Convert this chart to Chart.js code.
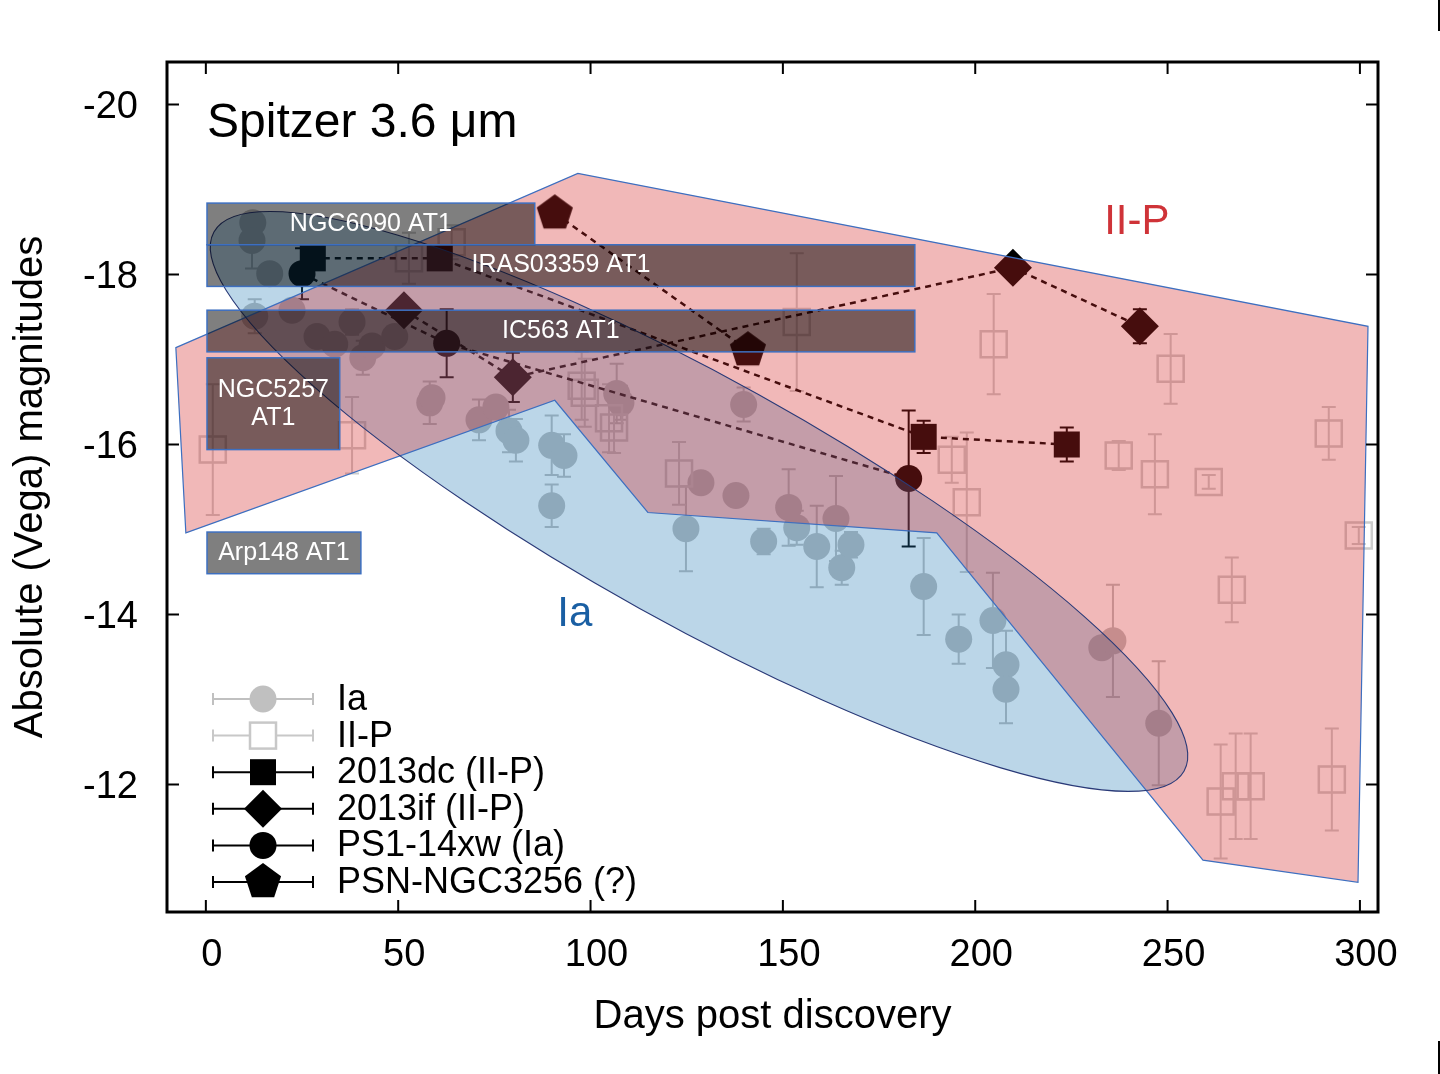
<!DOCTYPE html>
<html>
<head>
<meta charset="utf-8">
<script src="https://cdn.jsdelivr.net/npm/chart.js@4.4.1/dist/chart.umd.min.js"></script>
<style>
  html, body { margin: 0; padding: 0; background: #fff; }
  #wrap { width: 1440px; height: 1074px; }
</style>
</head>
<body>
<div id="wrap"><canvas id="lc" width="1440" height="1074"></canvas></div>
<script>
const FONT = "'Liberation Sans', Arial, Helvetica, sans-serif";

// tick labels
const xTickValues = [0, 50, 100, 150, 200, 250, 300];
const yTickValues = [-20, -18, -16, -14, -12];

// Ia comparison sample (grey circles)
const iaDays = [12.2, 12.0, 16.6, 12.7, 22.4, 28.9, 33.5, 38.0, 40.8, 43.2,
  49.1, 58.2, 58.8, 71.0, 75.4, 78.8, 80.6, 89.9, 93.1, 89.9,
  106.8, 107.9, 124.8, 128.7, 137.8, 139.8, 145.0, 151.5, 153.6, 158.8,
  163.8, 165.3, 167.7, 186.6, 195.7, 204.6, 208.0, 208.0, 232.9, 235.8, 247.7];
const iaMags = [-18.61, -18.40, -18.01, -17.51, -17.58, -17.27, -17.18, -17.44, -17.02, -17.16,
  -17.27, -16.49, -16.55, -16.29, -16.44, -16.16, -16.05, -15.99, -15.87, -15.28,
  -16.60, -16.49, -15.01, -15.55, -15.40, -16.47, -14.86, -15.26, -15.02, -14.80,
  -15.13, -14.55, -14.82, -14.33, -13.71, -13.93, -13.41, -13.12, -13.61, -13.69, -12.72];
const iaErr = [0.10, 0.33, 0.10, 0.20, 0.10, 0.10, 0.10, 0.15, 0.20, 0.10,
  0.10, 0.25, 0.10, 0.24, 0.10, 0.25, 0.25, 0.35, 0.25, 0.25,
  0.35, 0.20, 0.50, 0.10, 0.10, 0.20, 0.15, 0.45, 0.20, 0.48,
  0.50, 0.20, 0.15, 0.57, 0.29, 0.56, 0.40, 0.40, 0.10, 0.66, 0.73];

// II-P comparison sample (open squares)
const iipDays = [1.8, 38.0, 52.8, 63.9, 97.7, 98.5, 104.8, 106.1, 123.0, 153.6,
  193.9, 197.8, 204.8, 237.3, 246.7, 250.8, 260.7, 266.7, 263.8, 267.7,
  271.6, 291.9, 292.7, 299.7];
const iipMags = [-15.94, -16.11, -18.19, -18.38, -16.69, -16.61, -16.31, -16.20, -15.66, -17.44,
  -15.82, -15.32, -17.18, -15.87, -15.65, -16.89, -15.56, -14.29, -11.80, -11.98,
  -11.98, -16.13, -12.06, -14.93];
const iipErr = [0.77, 0.45, 0.30, 0.20, 0.40, 0.40, 0.40, 0.30, 0.37, 0.81,
  0.27, 0.82, 0.59, 0.17, 0.47, 0.41, 0.08, 0.38, 0.67, 0.62,
  0.62, 0.31, 0.60, 0.10];

// SPIRITS transients
const dcDays = [27.8, 60.8, 186.6, 223.8];
const dcMags = [-18.19, -18.19, -16.09, -16.00];
const dcErr = [0.10, 0, 0.19, 0.20];

const ifDays = [51.5, 79.8, 209.8, 242.8];
const ifMags = [-17.58, -16.79, -18.08, -17.39];
const ifErr = [0, 0.29, 0, 0.20];

const xwDays = [25.0, 62.6, 182.7];
const xwMags = [-18.01, -17.19, -15.60];
const xwErr = [0.30, 0.40, 0.80];

const psnDays = [90.7, 140.9];
const psnMags = [-18.72, -17.11];
const psnErr = [0, 0];

// II-P shaded region (days, mag)
const iipRegionDays = [-7.8, 96.7, 302.1, 299.5, 259.2, 190.0, 114.9, 90.7, -5.2];
const iipRegionMags = [-17.14, -19.19, -17.39, -10.85, -11.11, -14.96, -15.20, -16.52, -14.96];

// Ia ellipse: centre, end of long axis, end of short axis (days, mag)
const ellipseCenter = [128.2, -15.33];
const ellipseTip = [254.3, -12.16];
const ellipseSide = [112.8, -14.07];

// host galaxy boxes
const boxNames = [['NGC6090 AT1'], ['IRAS03359 AT1'], ['IC563 AT1'], ['NGC5257', 'AT1'], ['Arp148 AT1']];
const boxDayFrom = [0.3, 0.3, 0.3, 0.3, 0.3];
const boxDayTo = [85.5, 184.3, 184.3, 34.8, 40.3];
const boxMagTop = [-18.84, -18.35, -17.58, -17.02, -14.97];
const boxMagBottom = [-18.35, -17.86, -17.09, -15.94, -14.48];

const zip = (xs, ys) => xs.map((x, i) => ({ x: x, y: ys[i] }));

function makePentagon(r, color) {
  const s = Math.ceil(2 * r + 4);
  const c = document.createElement('canvas');
  c.width = s; c.height = s;
  const g = c.getContext('2d');
  g.fillStyle = color;
  g.beginPath();
  for (let i = 0; i < 5; i++) {
    const a = -Math.PI / 2 + i * 2 * Math.PI / 5;
    g.lineTo(s / 2 + r * Math.cos(a), s / 2 + r * Math.sin(a));
  }
  g.closePath();
  g.fill();
  return c;
}
const pentagonImg = makePentagon(19, '#000');

function errorBars(ctx, chart, days, mags, errs, color) {
  const xs = chart.scales.x, ys = chart.scales.y;
  ctx.save();
  ctx.strokeStyle = color;
  ctx.lineWidth = 2;
  days.forEach((d, i) => {
    const e = errs[i];
    if (!e) return;
    const x = xs.getPixelForValue(d);
    const y0 = ys.getPixelForValue(mags[i] - e);
    const y1 = ys.getPixelForValue(mags[i] + e);
    ctx.beginPath();
    ctx.moveTo(x, y0); ctx.lineTo(x, y1);
    ctx.moveTo(x - 7, y0); ctx.lineTo(x + 7, y0);
    ctx.moveTo(x - 7, y1); ctx.lineTo(x + 7, y1);
    ctx.stroke();
  });
  ctx.restore();
}

function legendSymbol(ctx, style, x, y, color) {
  ctx.fillStyle = color;
  ctx.strokeStyle = color;
  ctx.beginPath();
  if (style === 'circle') {
    ctx.arc(x, y, 13.5, 0, Math.PI * 2);
    ctx.fill();
  } else if (style === 'open') {
    ctx.fillStyle = '#fff';
    ctx.fillRect(x - 13, y - 13, 26, 26);
    ctx.lineWidth = 2.5;
    ctx.strokeRect(x - 13, y - 13, 26, 26);
  } else if (style === 'rect') {
    ctx.fillRect(x - 13, y - 13, 26, 26);
  } else if (style === 'diamond') {
    ctx.moveTo(x - 19, y); ctx.lineTo(x, y - 19); ctx.lineTo(x + 19, y); ctx.lineTo(x, y + 19);
    ctx.closePath();
    ctx.fill();
  } else {
    ctx.drawImage(pentagonImg, x - pentagonImg.width / 2, y - pentagonImg.height / 2);
  }
}

const overlay = {
  id: 'overlay',
  beforeDatasetsDraw(chart) {
    const ctx = chart.ctx;
    errorBars(ctx, chart, iaDays, iaMags, iaErr, '#c0c0c0');
    errorBars(ctx, chart, iipDays, iipMags, iipErr, '#cccccc');
    errorBars(ctx, chart, dcDays, dcMags, dcErr, '#000');
    errorBars(ctx, chart, ifDays, ifMags, ifErr, '#000');
    errorBars(ctx, chart, xwDays, xwMags, xwErr, '#000');
    errorBars(ctx, chart, psnDays, psnMags, psnErr, '#000');
  },
  afterDatasetsDraw(chart) {
    const ctx = chart.ctx, xs = chart.scales.x, ys = chart.scales.y, area = chart.chartArea;
    const P = (d, m) => [xs.getPixelForValue(d), ys.getPixelForValue(m)];
    ctx.save();
    ctx.beginPath();
    ctx.rect(area.left, area.top, area.right - area.left, area.bottom - area.top);
    ctx.clip();

    // Ia ellipse
    const [cx, cy] = P(ellipseCenter[0], ellipseCenter[1]);
    const [tx, ty] = P(ellipseTip[0], ellipseTip[1]);
    const [sx, sy] = P(ellipseSide[0], ellipseSide[1]);
    const ea = Math.hypot(tx - cx, ty - cy), eb = Math.hypot(sx - cx, sy - cy);
    const rot = Math.atan2(ty - cy, tx - cx);
    ctx.beginPath();
    ctx.ellipse(cx, cy, ea, eb, rot, 0, Math.PI * 2);
    ctx.fillStyle = 'rgba(31,119,180,0.30)';
    ctx.fill();

    // II-P polygon
    ctx.beginPath();
    iipRegionDays.forEach((d, i) => {
      const [x, y] = P(d, iipRegionMags[i]);
      if (i === 0) ctx.moveTo(x, y); else ctx.lineTo(x, y);
    });
    ctx.closePath();
    ctx.fillStyle = 'rgba(214,39,40,0.33)';
    ctx.fill();
    ctx.strokeStyle = '#3d6fc0';
    ctx.lineWidth = 1.2;
    ctx.stroke();

    ctx.beginPath();
    ctx.ellipse(cx, cy, ea, eb, rot, 0, Math.PI * 2);
    ctx.strokeStyle = '#2a3a78';
    ctx.lineWidth = 1.1;
    ctx.stroke();

    // host boxes
    boxNames.forEach((lines, i) => {
      const [x0, y0] = P(boxDayFrom[i], boxMagTop[i]);
      const [x1, y1] = P(boxDayTo[i], boxMagBottom[i]);
      ctx.fillStyle = 'rgba(0,0,0,0.5)';
      ctx.fillRect(x0, y0, x1 - x0, y1 - y0);
      ctx.strokeStyle = '#3d6fc0';
      ctx.lineWidth = 1.5;
      ctx.strokeRect(x0, y0, x1 - x0, y1 - y0);
      ctx.fillStyle = '#fff';
      ctx.font = '25px ' + FONT;
      ctx.textAlign = 'center';
      ctx.textBaseline = 'middle';
      const mid = (y0 + y1) / 2, lh = 28;
      lines.forEach((t, k) => {
        ctx.fillText(t, (x0 + x1) / 2, mid + (k - (lines.length - 1) / 2) * lh);
      });
    });
    ctx.restore();
  },
  afterDraw(chart) {
    const ctx = chart.ctx, xs = chart.scales.x, ys = chart.scales.y, area = chart.chartArea;
    ctx.save();

    // texts
    ctx.textBaseline = 'middle';
    ctx.textAlign = 'left';
    ctx.fillStyle = '#000';
    ctx.font = '48px ' + FONT;
    ctx.fillText('Spitzer 3.6 \u03bcm', xs.getPixelForValue(0.3), ys.getPixelForValue(-19.77));
    ctx.textAlign = 'center';
    ctx.font = '42px ' + FONT;
    ctx.fillStyle = '#cf3338';
    ctx.fillText('II-P', xs.getPixelForValue(242.0), ys.getPixelForValue(-18.61));
    ctx.fillStyle = '#1a5fa3';
    ctx.fillText('Ia', xs.getPixelForValue(95.9), ys.getPixelForValue(-14.0));

    // legend
    const items = [
      ['Ia', 'circle', '#c0c0c0'],
      ['II-P', 'open', '#c8c8c8'],
      ['2013dc (II-P)', 'rect', '#000'],
      ['2013if (II-P)', 'diamond', '#000'],
      ['PS1-14xw (Ia)', 'circle', '#000'],
      ['PSN-NGC3256 (?)', 'pentagon', '#000']
    ];
    items.forEach((it, i) => {
      const y = 699 + i * 36.6;
      const x0 = area.left + 46, x1 = area.left + 146, xc = area.left + 96;
      ctx.strokeStyle = it[2];
      ctx.lineWidth = 2;
      ctx.beginPath();
      ctx.moveTo(x0, y); ctx.lineTo(x1, y);
      ctx.moveTo(x0, y - 6); ctx.lineTo(x0, y + 6);
      ctx.moveTo(x1, y - 6); ctx.lineTo(x1, y + 6);
      ctx.stroke();
      legendSymbol(ctx, it[1], xc, y, it[2]);
      ctx.fillStyle = '#000';
      ctx.font = '36px ' + FONT;
      ctx.textAlign = 'left';
      ctx.textBaseline = 'middle';
      ctx.fillText(it[0], area.left + 170, y + 1);
    });

    // frame and inward ticks
    ctx.strokeStyle = '#000';
    ctx.lineWidth = 2;
    ctx.beginPath();
    xTickValues.forEach(v => {
      const x = xs.getPixelForValue(v);
      ctx.moveTo(x, area.bottom); ctx.lineTo(x, area.bottom - 12);
      ctx.moveTo(x, area.top); ctx.lineTo(x, area.top + 12);
    });
    yTickValues.forEach(v => {
      const y = ys.getPixelForValue(v);
      ctx.moveTo(area.left, y); ctx.lineTo(area.left + 12, y);
      ctx.moveTo(area.right, y); ctx.lineTo(area.right - 12, y);
    });
    ctx.stroke();
    ctx.lineWidth = 3;
    ctx.strokeRect(area.left, area.top, area.right - area.left, area.bottom - area.top);

    // page edge marks
    ctx.fillStyle = '#000';
    ctx.fillRect(1438, 0, 2, 31);
    ctx.fillRect(1438, 1041, 2, 33);
    ctx.restore();
  }
};

new Chart(document.getElementById('lc'), {
  type: 'scatter',
  data: {
    datasets: [
      { label: '2013dc (II-P)', data: zip(dcDays, dcMags), order: 1, showLine: true,
        borderColor: '#000', borderWidth: 2.5, borderDash: [6, 5],
        pointStyle: 'rect', pointRadius: 18.4, pointBackgroundColor: '#000', pointBorderWidth: 0 },
      { label: '2013if (II-P)', data: zip(ifDays, ifMags), order: 1, showLine: true,
        borderColor: '#000', borderWidth: 2.5, borderDash: [6, 5],
        pointStyle: 'rectRot', pointRadius: 19, pointBackgroundColor: '#000', pointBorderWidth: 0 },
      { label: 'PS1-14xw (Ia)', data: zip(xwDays, xwMags), order: 1, showLine: true,
        borderColor: '#000', borderWidth: 2.5, borderDash: [6, 5],
        pointStyle: 'circle', pointRadius: 13.5, pointBackgroundColor: '#000', pointBorderWidth: 0 },
      { label: 'PSN-NGC3256 (?)', data: zip(psnDays, psnMags), order: 1, showLine: true,
        borderColor: '#000', borderWidth: 2.5, borderDash: [6, 5],
        pointStyle: pentagonImg, pointRadius: 19 },
      { label: 'II-P', data: zip(iipDays, iipMags), order: 5,
        pointStyle: 'rect', pointRadius: 18.4, pointBackgroundColor: 'rgba(0,0,0,0)',
        pointBorderColor: '#cccccc', pointBorderWidth: 2.5 },
      { label: 'Ia', data: zip(iaDays, iaMags), order: 6,
        pointStyle: 'circle', pointRadius: 13.5, pointBackgroundColor: '#bfbfbf', pointBorderWidth: 0 }
    ]
  },
  options: {
    responsive: false,
    devicePixelRatio: 1,
    animation: false,
    events: [],
    layout: { padding: { top: 62, right: 62, left: 0, bottom: 0 } },
    plugins: { legend: { display: false }, tooltip: { enabled: false } },
    scales: {
      x: {
        type: 'linear', position: 'bottom', min: -10.1, max: 304.7,
        grid: { display: false, drawTicks: false },
        border: { display: false },
        afterBuildTicks: s => { s.ticks = xTickValues.map(v => ({ value: v })); },
        afterFit: s => { s.height = 162; },
        ticks: { color: '#000', font: { family: FONT, size: 38 }, padding: 21, labelOffset: 6,
          maxRotation: 0, callback: v => String(v) },
        title: { display: true, text: 'Days post discovery', color: '#000',
          font: { family: FONT, size: 40 }, padding: { top: 0, bottom: 33 } }
      },
      y: {
        type: 'linear', position: 'left', min: -20.5, max: -10.5, reverse: true,
        grid: { display: false, drawTicks: false },
        border: { display: false },
        afterBuildTicks: s => { s.ticks = yTickValues.map(v => ({ value: v })); },
        afterFit: s => { s.width = 167; },
        ticks: { color: '#000', font: { family: FONT, size: 38 }, padding: 29, labelOffset: 3,
          callback: v => String(v) },
        title: { display: true, text: 'Absolute (Vega) magnitudes', color: '#000',
          font: { family: FONT, size: 40 }, padding: { top: 7, bottom: 0 } }
      }
    }
  },
  plugins: [overlay]
});
</script>
</body>
</html>
